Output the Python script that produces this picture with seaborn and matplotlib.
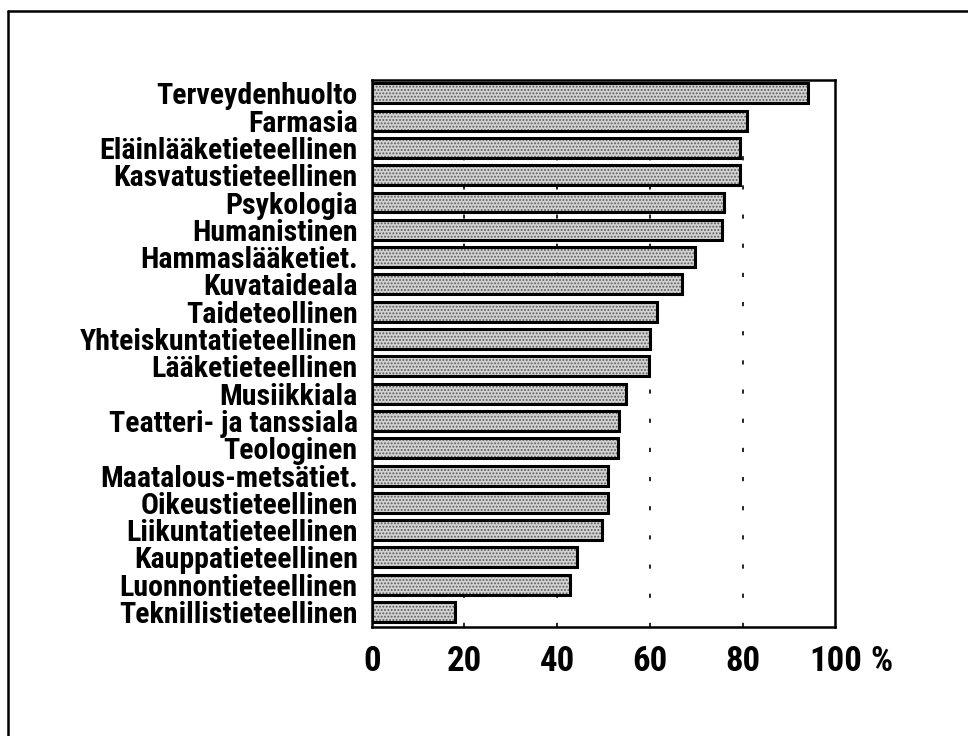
import matplotlib
matplotlib.use('Agg')
import pandas as pd
import seaborn as sns
from matplotlib import pyplot as plt
from matplotlib.lines import Line2D

# 데이터
alat = ['Terveydenhuolto', 'Farmasia', 'Eläinlääketieteellinen', 'Kasvatustieteellinen',
        'Psykologia', 'Humanistinen', 'Hammaslääketiet.', 'Kuvataideala',
        'Taideteollinen', 'Yhteiskuntatieteellinen', 'Lääketieteellinen', 'Musiikkiala',
        'Teatteri- ja tanssiala', 'Teologinen', 'Maatalous-metsätiet.', 'Oikeustieteellinen',
        'Liikuntatieteellinen', 'Kauppatieteellinen', 'Luonnontieteellinen', 'Teknillistieteellinen']
osuus = [94.0, 81.0, 79.5, 79.5, 75.9, 75.6, 69.8, 67.0, 61.6, 60.1,
         59.7, 54.8, 53.3, 53.1, 51.0, 51.0, 49.6, 44.3, 42.8, 17.9]
x_ticks = [0, 20, 40, 60, 80, 100]
x_tick_labels = ['0', '20', '40', '60', '80', '100']

df = pd.DataFrame({'ala': alat, 'osuus': osuus})

sns.set_style('white')
plt.rcParams['font.family'] = ['Roboto Condensed', 'Liberation Sans Narrow',
                               'DejaVu Sans Condensed', 'DejaVu Sans']
plt.rcParams['font.stretch'] = 'condensed'
plt.rcParams['font.weight'] = 'bold'
plt.rcParams['text.color'] = 'black'
plt.rcParams['xtick.color'] = 'black'
plt.rcParams['ytick.color'] = 'black'
plt.rcParams['hatch.linewidth'] = 0.9

fig = plt.figure(figsize=(9.68, 7.36), dpi=100)
ax = fig.add_axes([0.384, 0.148, 0.479, 0.743])

# 점무늬 채우기
sns.barplot(data=df, x='osuus', y='ala', orient='h', color='#d2d2d2',
            width=0.73, linewidth=0, saturation=1, ax=ax, zorder=2)
for p in ax.patches:
    p.set_hatch('.....')
    p.set_edgecolor('#5a5a5a')
    p.set_linewidth(0)

# 테두리
sns.barplot(data=df, x='osuus', y='ala', orient='h', fill=False,
            edgecolor='black', width=0.73, linewidth=2.2, ax=ax, zorder=3)

for xv in [20, 40, 60, 80]:
    ax.axvline(xv, color='black', linestyle=(0, (2.5, 15)), linewidth=1.2, zorder=1)

ax.set_xlim(0, 100)
ax.set_ylim(len(alat) - 0.45, -0.48)
ax.set_xticks(x_ticks)
ax.set_xticklabels(x_tick_labels)
ax.set_xlabel('')
ax.set_ylabel('')
ax.tick_params(axis='x', direction='inout', length=11.5, width=1.2, labelsize=25, pad=7.5)
ax.tick_params(axis='y', length=0, labelsize=21.5, pad=10)
for s in ax.spines.values():
    s.set_linewidth(1.8)
    s.set_color('black')

ax.annotate('%', xy=(100, 0), xycoords=('data', 'axes fraction'),
            xytext=(25, -13.25), textcoords='offset points',
            ha='left', va='top', fontsize=25, fontweight='bold')

# 바깥 테두리
fig.add_artist(Line2D([8 / 968, 1], [1 - 11 / 736, 1 - 11 / 736],
                      transform=fig.transFigure, color='black', linewidth=1.8))
fig.add_artist(Line2D([8 / 968, 8 / 968], [0, 1 - 11 / 736],
                      transform=fig.transFigure, color='black', linewidth=1.8))

fig.savefig('out.png', dpi=100)
